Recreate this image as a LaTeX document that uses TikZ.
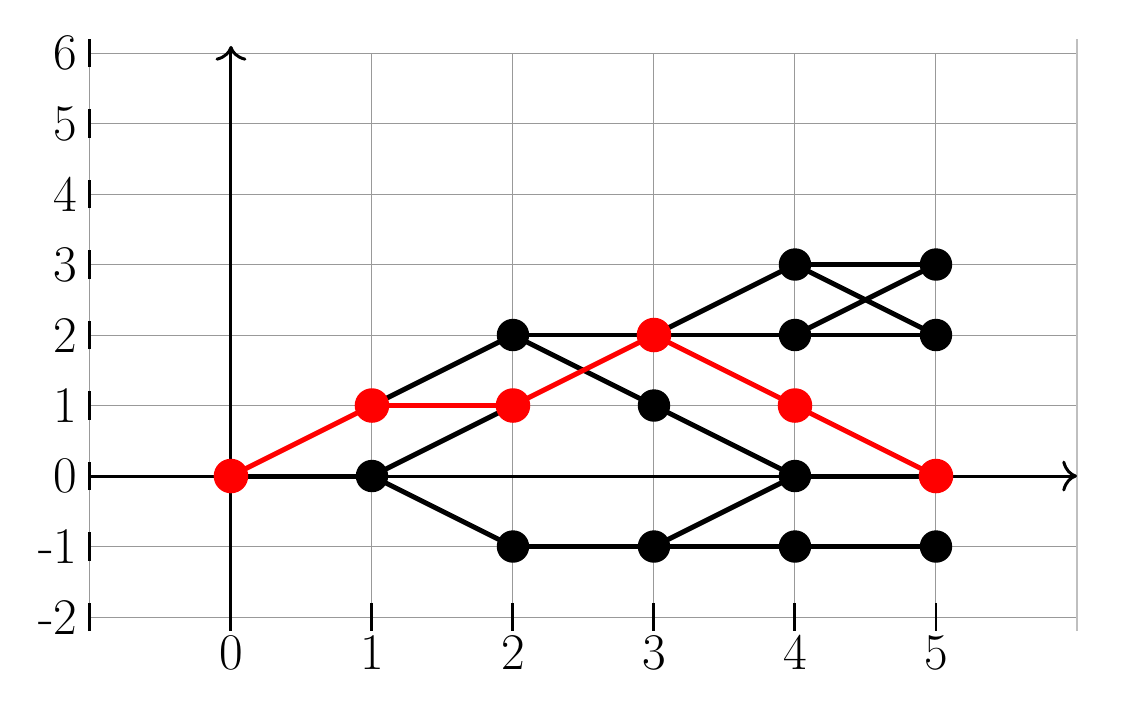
\documentclass[tikz,border=0pt]{standalone}
\usepackage{tikz}
\usetikzlibrary{arrows.meta}
\pgfdeclarelayer{back}
\pgfdeclarelayer{edges}
\pgfsetlayers{back,edges,main}
\begin{document}
\begin{tikzpicture}[x=2cm,y=1cm,font=\huge,>={To[scale=1.4]}]
    \tikzstyle{dot}=[circle,fill=black,minimum size=0.46cm,inner sep=0pt]
    \tikzstyle{reddot}=[circle,fill=red,minimum size=0.49cm,inner sep=0pt]
    \tikzstyle{edge}=[line width=2pt,black]
    \tikzstyle{rededge}=[line width=2pt,red]
    \useasboundingbox (-1.638,-3.305) rectangle (6.454,6.752);

    \foreach \name/\x/\y in {n10/1/0, n22/2/2, n2m1/2/-1, n31/3/1, n3m1/3/-1, n43/4/3,
                             n42/4/2, n40/4/0, n4m1/4/-1, n53/5/3, n52/5/2, n5m1/5/-1}
        \node[dot] (\name) at (\x,\y) {};
    \foreach \name/\x/\y in {n00/0/0, n11/1/1, n21/2/1, n32/3/2, n41/4/1, n50/5/0}
        \node[reddot] (\name) at (\x,\y) {};

    \begin{pgfonlayer}{back}
        \draw[gray!80,line width=0.4pt,xstep=2cm,ystep=1cm] (-1,-2) grid (6,6);
        \draw[gray!50,line width=0.8pt] (6,-2.2) -- (6,6.2);
        \foreach \y in {-2,...,6}
            \draw[line width=1.2pt] (-1,\y-0.2) -- (-1,\y+0.2) node[midway,left,inner sep=0.45em] {\y};
        \foreach \x in {0,...,5}
            \draw[line width=1.2pt] (\x,-1.8) -- (\x,-2.2) node[below,inner sep=1pt] {\x};
        \draw[line width=1.2pt,->] (-1,0) -- (6,0);
        \draw[line width=1.2pt,->] (0,-2.1) -- (0,6.1);
    \end{pgfonlayer}

    \begin{pgfonlayer}{edges}
        \foreach \from/\to in {n00/n10, n10/n21, n10/n2m1, n11/n22, n22/n32, n32/n42, n42/n52,
                               n22/n31, n31/n40, n32/n43, n43/n53, n43/n52, n42/n53,
                               n2m1/n3m1, n3m1/n4m1, n4m1/n5m1, n3m1/n40, n40/n50}
            \draw[edge] (\from.center) -- (\to.center);
        \foreach \from/\to in {n00/n11, n11/n21, n21/n32, n32/n41, n41/n50}
            \draw[rededge] (\from.center) -- (\to.center);
    \end{pgfonlayer}
\end{tikzpicture}
\end{document}
